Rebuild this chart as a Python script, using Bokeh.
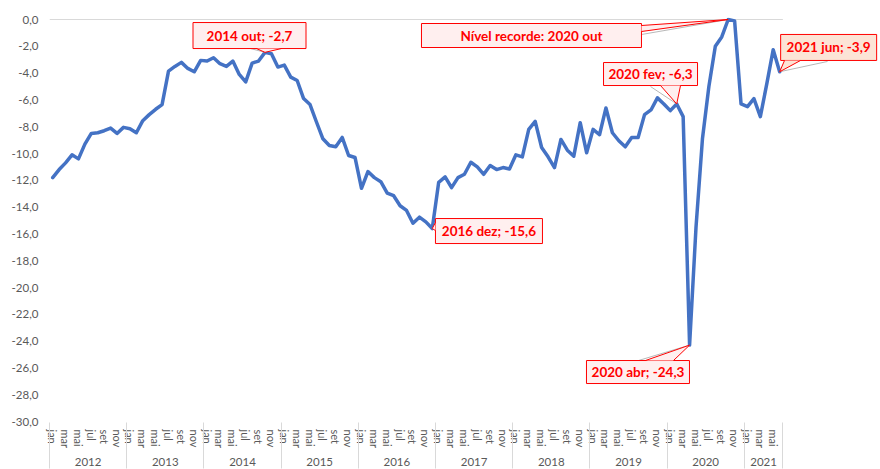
from bokeh.plotting import figure
from bokeh.models import FixedTicker, LinearAxis, Range1d
from bokeh.core.properties import value
from bokeh.embed import file_html
from bokeh.resources import INLINE

# ---------------- data ----------------
years = ["2012", "2013", "2014", "2015", "2016", "2017", "2018", "2019", "2020", "2021"]
months = ["jan", "fev", "mar", "abr", "mai", "jun", "jul", "ago", "set", "out", "nov", "dez"]

y2012 = [-11.8, -11.2, -10.7, -10.1, -10.4, -9.3, -8.5, -8.45, -8.3, -8.1, -8.5, -8.05]
y2013 = [-8.15, -8.45, -7.55, -7.1, -6.7, -6.35, -3.85, -3.5, -3.2, -3.65, -3.9, -3.05]
y2014 = [-3.1, -2.85, -3.3, -3.5, -3.1, -4.1, -4.65, -3.25, -3.1, -2.45, -2.55, -3.55]
y2015 = [-3.4, -4.3, -4.55, -5.9, -6.35, -7.65, -8.9, -9.4, -9.5, -8.8, -10.15, -10.3]
y2016 = [-12.6, -11.35, -11.8, -12.1, -12.95, -13.15, -13.9, -14.25, -15.2, -14.75, -15.1, -15.6]
y2017 = [-12.15, -11.75, -12.55, -11.8, -11.55, -10.65, -11.0, -11.55, -10.9, -11.2, -11.05, -11.15]
y2018 = [-10.1, -10.25, -8.2, -7.6, -9.55, -10.25, -11.05, -8.95, -9.75, -10.2, -7.7, -9.95]
y2019 = [-8.2, -8.6, -6.6, -8.45, -9.05, -9.5, -8.8, -8.8, -7.1, -6.75, -5.85, -6.3]
y2020 = [-6.8, -6.3, -7.25, -24.3, -15.5, -8.9, -5.0, -2.0, -1.3, 0.0, -0.1, -6.3]
y2021 = [-6.5, -5.9, -7.25, -4.8, -2.25, -3.9]

y_ticks = list(range(-30, 1, 2))

# annotation texts with the index of the month they point at
ann_text = ["2014 out; -2,7", "Nível recorde: 2020 out", "2020 fev; -6,3",
            "2021 jun; -3,9", "2016 dez; -15,6", "2020 abr; -24,3"]
ann_idx = [33, 105, 97, 113, 59, 99]

values = y2012 + y2013 + y2014 + y2015 + y2016 + y2017 + y2018 + y2019 + y2020 + y2021
n = len(values)
xs = list(range(n))

# ---------------- layout ----------------
W, H = 880, 469
BL, BR, BT, BB = 49, 0, 17, 48
frame_w = W - BL - BR
frame_h = H - BT - BB
XPX = 6.433
x_start = -0.5
x_end = x_start + frame_w / XPX
y_start, y_end = -30.0, 0.15
YPX = frame_h / (y_end - y_start)

p = figure(width=W, height=H, x_range=Range1d(x_start, x_end), y_range=Range1d(y_start, y_end),
           output_backend="svg", toolbar_location=None,
           min_border_left=BL, min_border_right=BR, min_border_top=BT, min_border_bottom=BB)
p.outline_line_color = None
p.grid.visible = False
p.background_fill_color = "white"

FONT = "Lato"
GRAY = "#595959"

# y axis
ya = p.yaxis[0]
ya.ticker = FixedTicker(ticks=y_ticks)
ya.major_label_overrides = {t: f"{t},0" for t in y_ticks}
ya.axis_line_color = None
ya.major_tick_line_color = None
ya.minor_tick_line_color = None
ya.major_tick_out = 0
ya.major_tick_in = 0
ya.major_label_standoff = 11
ya.major_label_text_font = FONT
ya.major_label_text_font_size = "11.5px"
ya.major_label_text_color = GRAY

# month axis
boundaries = [12 * k - 0.5 for k in range(len(years))] + [n - 0.5]
month_ticks = list(range(0, n, 2))
xa = p.xaxis[0]
xa.ticker = FixedTicker(ticks=month_ticks)
xa.major_label_overrides = {i: months[i % 12] for i in month_ticks}
xa.major_label_orientation = "vertical"
xa.axis_line_color = None
xa.major_tick_line_color = None
xa.minor_tick_line_color = None
xa.major_tick_out = 0
xa.major_tick_in = 0
xa.major_label_standoff = 8
xa.major_label_text_font = FONT
xa.major_label_text_font_size = "11px"
xa.major_label_text_color = GRAY

# year axis
year_mids = [(boundaries[k] + boundaries[k + 1]) / 2 for k in range(len(years))]
yax = LinearAxis(ticker=FixedTicker(ticks=year_mids),
                 major_label_overrides={m: yr for m, yr in zip(year_mids, years)})
yax.axis_line_color = None
yax.major_tick_line_color = None
yax.minor_tick_line_color = None
yax.major_tick_out = 0
yax.major_tick_in = 0
yax.major_label_standoff = 6
yax.major_label_text_font = FONT
yax.major_label_text_font_size = "11.5px"
yax.major_label_text_color = GRAY
p.add_layout(yax, "below")

# year separators: ticks of an unlabeled axis at the very bottom, pointing up
sep = LinearAxis(ticker=FixedTicker(ticks=boundaries),
                 major_label_overrides={b: "" for b in boundaries})
sep.axis_line_color = None
sep.minor_tick_line_color = None
sep.major_tick_out = 0
sep.major_tick_in = 46
sep.major_tick_line_color = "#D9D9D9"
sep.major_label_standoff = 0
sep.major_label_text_font_size = "0px"
p.add_layout(sep, "below")

# axis line at zero (top)
p.line([x_start, n - 0.5], [0, 0], line_color="#D9D9D9", line_width=1)

# main series
p.line(xs, values, line_color="#4472C4", line_width=3.5, line_join="round", line_cap="round")

# ---------------- callouts ----------------
# offsets in screen pixels (x right, y down) relative to the pointed data point
ann_center = [(-15.5, -16.8), (-196.7, 16.0), (-26.2, -29.9), (49.0, -24.3), (56.7, 2.5), (-51.6, 26.9)]
ann_size = [(113, 26), (220, 24), (94, 23), (96, 26), (107, 25), (103, 23)]
ann_base = [[(-8.5, -3.8), (16.5, -3.8)],
            [(-86.7, 6.0), (-86.7, 12.0)],
            [(-16.2, -18.4), (3.8, -18.4)],
            [(4.9, -11.3), (20.9, -11.3)],
            [(3.2, -6.0), (3.2, 2.0)],
            [(-44.1, 15.4), (-16.1, 15.4)]]
ann_shadow = [(-14.5, -3.8), (-86.7, 15.0), (-26.2, -17.4), (47.9, -10.3), None, (-51.1, 15.4)]
ann_fill = ["#FFEFEF", "#FFEFEF", "#FFEFEF", "#FCE4D6", "#FFEFEF", "#FFEFEF"]


def to_data(i, v, dx, dy):
    return i + dx / XPX, v - dy / YPX


for t, i, c, s, b, sh, f in zip(ann_text, ann_idx, ann_center, ann_size, ann_base, ann_shadow, ann_fill):
    v = values[i]
    if sh is not None:
        sx, sy = to_data(i, v, *sh)
        p.line([sx, i], [sy, v], line_color="#A6A6A6", line_width=1, line_alpha=0.8)
    cx, cy = to_data(i, v, *c)
    p.rect(x=[cx], y=[cy], width=s[0], height=s[1], width_units="screen", height_units="screen",
           fill_color=f, line_color="#FF0000", line_width=1)
    (b1x, b1y), (b2x, b2y) = [to_data(i, v, *pt) for pt in b]
    p.patch([b1x, i, b2x], [b1y, v, b2y], fill_color=f, line_color=None)
    p.line([b1x, i, b2x], [b1y, v, b2y], line_color="#FF0000", line_width=1)
    p.text(x=[cx], y=[cy], text=[t], text_align="center", text_baseline="middle",
           text_font=value(FONT), text_font_style="bold", text_font_size="13.5px",
           text_color="#FF0000")

open("out.html", "w").write(file_html(p, INLINE))
